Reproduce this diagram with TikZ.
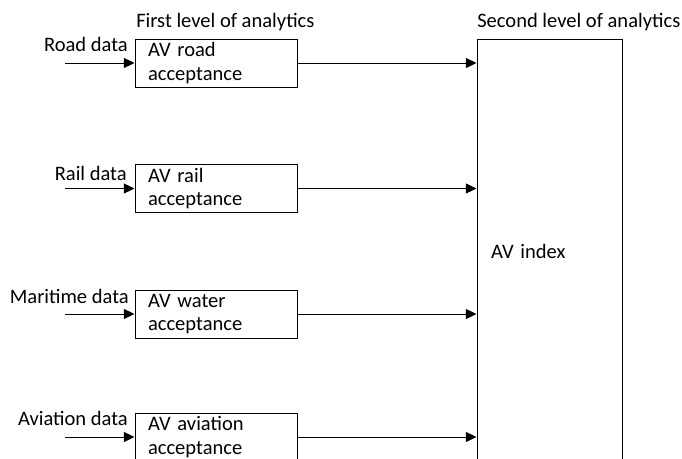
\documentclass[tikz,border=0pt]{standalone}
\usepackage{fontspec}
\setmainfont{Carlito}
\usetikzlibrary{arrows.meta,positioning}

\begin{document}
\begin{tikzpicture}[x=0.75pt, y=-0.75pt,
  font=\fontsize{15.4}{17.7}\selectfont,
  box/.style={draw, line width=0.75pt, minimum height=36pt, text width=102pt, inner xsep=9.75pt, inner ysep=0pt, align=left},
  bigbox/.style={draw, line width=0.75pt, minimum height=318pt, text width=87.75pt, inner xsep=10.5pt, inner ysep=0pt, align=left},
  lbl/.style={anchor=base east, inner sep=0pt},
  head/.style={anchor=base west, inner sep=0pt},
  arrow/.style={-{Triangle[length=8pt, width=7.5pt]}, line width=0.75pt}
]
\useasboundingbox (0,0) rectangle (682,458);
\clip (0,0) rectangle (682,458);
% first level
\node[box] (road) at (216,63) {AV road\\acceptance};
\node[box] (rail) at (216,188.5) {AV rail\\acceptance};
\node[box] (water) at (216,314) {AV water\\acceptance};
\node[box] (aviation) at (216,437) {AV aviation\\acceptance};
% second level
\node[bigbox] (index) at (549.5,251) {AV index};
\node[head] (firsthead) at (136,27) {First level of analytics};
\node[head] (secondhead) at (477,27) {Second level of analytics};
% inputs
\node[lbl] (roadlbl) at (128,51) {Road data};
\node[lbl] (raillbl) at (127,180) {Rail data};
\node[lbl] (waterlbl) at (129,303) {Maritime data};
\node[lbl] (aviationlbl) at (128,425) {Aviation data};
\coordinate (roadin) at (65,63);
\coordinate (railin) at (65,188.5);
\coordinate (waterin) at (65,314);
\coordinate (aviationin) at (65,437);
\draw[arrow] (roadin) -- (road);
\draw[arrow] (railin) -- (rail);
\draw[arrow] (waterin) -- (water);
\draw[arrow] (aviationin) -- (aviation);
\draw[arrow] (road) -- (road -| index.west);
\draw[arrow] (rail) -- (rail -| index.west);
\draw[arrow] (water) -- (water -| index.west);
\draw[arrow] (aviation) -- (aviation -| index.west);
\end{tikzpicture}
\end{document}
